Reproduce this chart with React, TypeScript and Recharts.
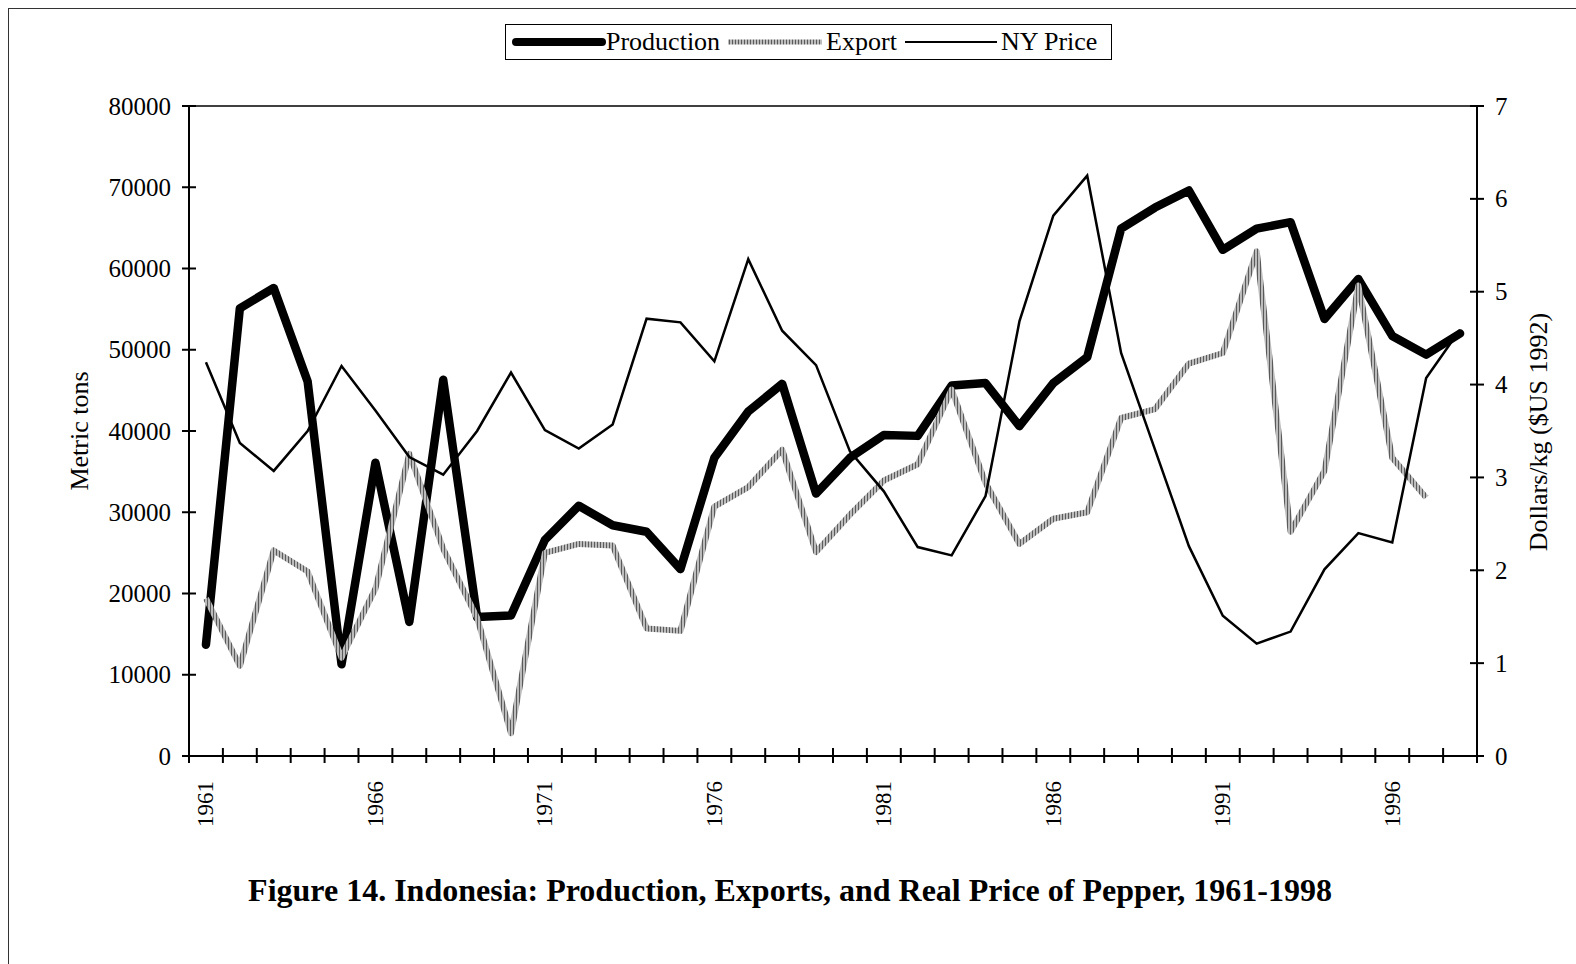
import React from 'react';
import { LineChart, Line, XAxis, YAxis, ReferenceLine, Legend } from 'recharts';

const years = [
  1961, 1962, 1963, 1964, 1965, 1966, 1967, 1968, 1969, 1970,
  1971, 1972, 1973, 1974, 1975, 1976, 1977, 1978, 1979, 1980,
  1981, 1982, 1983, 1984, 1985, 1986, 1987, 1988, 1989, 1990,
  1991, 1992, 1993, 1994, 1995, 1996, 1997, 1998,
];

const production = [
  13700, 55100, 57600, 46100, 11300, 36100, 16500, 46300, 17100, 17300,
  26600, 30800, 28400, 27600, 23000, 36700, 42400, 45800, 32300, 36700,
  39500, 39400, 45600, 45900, 40600, 45900, 49100, 64900, 67500, 69600,
  62300, 64900, 65700, 53800, 58700, 51700, 49400, 52000,
];

const exportVals: (number | null)[] = [
  19400, 11100, 25300, 22700, 12100, 20600, 37200, 25500, 17000, 2800,
  25000, 26100, 25900, 15700, 15400, 30700, 33100, 37700, 25100, 29700,
  33900, 35900, 45100, 33600, 26100, 29200, 30000, 41600, 42700, 48300,
  49600, 62100, 27600, 35100, 57900, 36700, 31800, null,
];

const nyPrice = [
  4.24, 3.37, 3.07, 3.5, 4.2, 3.72, 3.22, 3.03, 3.5, 4.13,
  3.51, 3.31, 3.57, 4.71, 4.67, 4.25, 5.35, 4.58, 4.21, 3.28,
  2.85, 2.25, 2.16, 2.8, 4.68, 5.82, 6.25, 4.34, 3.3, 2.26,
  1.51, 1.21, 1.34, 2.01, 2.4, 2.3, 4.07, 4.59,
];

const yearLabels = [1961, 1966, 1971, 1976, 1981, 1986, 1991, 1996];
const leftTicks = [0, 10000, 20000, 30000, 40000, 50000, 60000, 70000, 80000];
const rightTicks = [0, 1, 2, 3, 4, 5, 6, 7];

const data = years.map((y, i) => ({
  year: y,
  production: production[i],
  exp: exportVals[i],
  price: nyPrice[i],
}));

const tickBounds = [...years.map((y) => y - 0.5), years[years.length - 1] + 0.5];
const xTicks = [...tickBounds, ...yearLabels].sort((a, b) => a - b);

const FONT = '"Liberation Serif", "Times New Roman", serif';

const W = 1576;
const H = 964;
const PLOT_L = 189;
const PLOT_R = 1477;
const PLOT_T = 106;
const PLOT_B = 756;
const LW = 100;
const RW = 60;
const XH = 100;

const XTick = (props: any) => {
  const { x, y, payload } = props;
  const v = payload.value;
  if (Number.isInteger(v)) {
    const ty = y + 25;
    return (
      <text
        x={x}
        y={ty}
        transform={`rotate(-90 ${x} ${ty})`}
        textAnchor="end"
        dominantBaseline="central"
        fontSize={23}
        fontFamily={FONT}
        fill="#000"
      >
        {v}
      </text>
    );
  }
  return <line x1={x} x2={x} y1={y - 8} y2={y + 7} stroke="#000" strokeWidth={2} />;
};

const LeftTick = (props: any) => {
  const { x, y, payload } = props;
  return (
    <g>
      <line x1={x - 7} x2={x + 7} y1={y} y2={y} stroke="#000" strokeWidth={2} />
      <text
        x={x - 18}
        y={y}
        textAnchor="end"
        dominantBaseline="central"
        fontSize={25}
        fontFamily={FONT}
        fill="#000"
      >
        {payload.value}
      </text>
    </g>
  );
};

const RightTick = (props: any) => {
  const { x, y, payload } = props;
  return (
    <g>
      <line x1={x - 7} x2={x + 7} y1={y} y2={y} stroke="#000" strokeWidth={2} />
      <text
        x={x + 18}
        y={y}
        textAnchor="start"
        dominantBaseline="central"
        fontSize={25}
        fontFamily={FONT}
        fill="#000"
      >
        {payload.value}
      </text>
    </g>
  );
};

const LegendBox = () => (
  <div
    style={{
      display: 'flex',
      alignItems: 'center',
      border: '1.5px solid #000',
      height: 36,
      padding: '0 14px 0 6px',
      fontSize: 26,
      fontFamily: FONT,
      background: '#fff',
      whiteSpace: 'nowrap',
      color: '#000',
      boxSizing: 'border-box',
    }}
  >
    <svg width={94} height={14} style={{ display: 'block' }}>
      <line x1={4} y1={7} x2={90} y2={7} stroke="#000" strokeWidth={8} strokeLinecap="round" />
    </svg>
    <span>Production</span>
    <svg width={100} height={14} style={{ display: 'block', marginLeft: 6 }}>
      <defs>
        <pattern id="legHatch" patternUnits="userSpaceOnUse" width="3" height="3">
          <rect width="3" height="3" fill="#bcbcbc" />
          <rect x="0" y="0" width="1" height="3" fill="#5a5a5a" />
        </pattern>
      </defs>
      <line x1={2} y1={7} x2={96} y2={7} stroke="url(#legHatch)" strokeWidth={5} />
    </svg>
    <span>Export</span>
    <svg width={96} height={14} style={{ display: 'block', marginLeft: 8 }}>
      <line x1={0} y1={7} x2={92} y2={7} stroke="#000" strokeWidth={2} />
    </svg>
    <span>NY Price</span>
  </div>
);

export default function App() {
  return (
    <div
      style={{
        position: 'absolute',
        left: 0,
        top: 0,
        width: W,
        height: H,
        background: '#fff',
        fontFamily: FONT,
        overflow: 'hidden',
      }}
    >
      <div
        style={{
          position: 'absolute',
          left: 8,
          top: 8,
          width: W,
          height: H,
          borderLeft: '1.5px solid #333',
          borderTop: '1.5px solid #333',
        }}
      />
      <div style={{ position: 'absolute', left: 0, top: 0 }}>
        <LineChart
          width={W}
          height={H}
          data={data}
          margin={{
            top: PLOT_T,
            right: W - PLOT_R - RW,
            bottom: H - PLOT_B - XH,
            left: PLOT_L - LW,
          }}
        >
          <defs>
            <pattern id="exportHatch" patternUnits="userSpaceOnUse" width="3" height="3">
              <rect width="3" height="3" fill="#bcbcbc" />
              <rect x="0" y="0" width="1" height="3" fill="#5a5a5a" />
            </pattern>
          </defs>
          <XAxis
            xAxisId="x"
            type="number"
            dataKey="year"
            domain={[1960.5, 1998.5]}
            ticks={xTicks}
            interval={0}
            tickSize={0}
            tickMargin={0}
            tickLine={false}
            tick={<XTick />}
            axisLine={{ stroke: '#000', strokeWidth: 2 }}
            height={XH}
          />
          <YAxis
            yAxisId="left"
            orientation="left"
            domain={[0, 80000]}
            ticks={leftTicks}
            interval={0}
            tickSize={0}
            tickMargin={0}
            tickLine={false}
            tick={<LeftTick />}
            axisLine={{ stroke: '#000', strokeWidth: 2 }}
            width={LW}
            label={{
              content: () => (
                <text
                  x={79}
                  y={431}
                  transform="rotate(-90 79 431)"
                  textAnchor="middle"
                  dominantBaseline="central"
                  fontSize={26}
                  fontFamily={FONT}
                  fill="#000"
                >
                  Metric tons
                </text>
              ),
            }}
          />
          <YAxis
            yAxisId="right"
            orientation="right"
            domain={[0, 7]}
            ticks={rightTicks}
            interval={0}
            tickSize={0}
            tickMargin={0}
            tickLine={false}
            tick={<RightTick />}
            axisLine={{ stroke: '#000', strokeWidth: 2 }}
            width={RW}
            label={{
              content: () => (
                <text
                  x={1538}
                  y={432}
                  transform="rotate(-90 1538 432)"
                  textAnchor="middle"
                  dominantBaseline="central"
                  fontSize={26}
                  fontFamily={FONT}
                  fill="#000"
                >
                  Dollars/kg ($US 1992)
                </text>
              ),
            }}
          />
          <ReferenceLine xAxisId="x" yAxisId="left" y={80000} stroke="#000" strokeWidth={1.5} />
          <Legend
            layout="vertical"
            align="center"
            verticalAlign="middle"
            content={() => <LegendBox />}
            wrapperStyle={{ top: 24, left: 505, width: 'auto', height: 'auto' }}
          />
          <Line
            xAxisId="x"
            yAxisId="left"
            type="linear"
            dataKey="production"
            stroke="#000"
            strokeWidth={8.5}
            strokeLinejoin="round"
            strokeLinecap="round"
            dot={false}
            activeDot={false}
            isAnimationActive={false}
          />
          <Line
            xAxisId="x"
            yAxisId="left"
            type="linear"
            dataKey="exp"
            stroke="url(#exportHatch)"
            strokeWidth={6}
            strokeLinejoin="round"
            dot={false}
            activeDot={false}
            isAnimationActive={false}
          />
          <Line
            xAxisId="x"
            yAxisId="right"
            type="linear"
            dataKey="price"
            stroke="#000"
            strokeWidth={2.5}
            dot={false}
            activeDot={false}
            isAnimationActive={false}
          />
        </LineChart>
      </div>
      <div
        style={{
          position: 'absolute',
          left: 0,
          top: 872,
          width: 1580,
          textAlign: 'center',
          fontWeight: 'bold',
          fontSize: 32,
          fontFamily: FONT,
          color: '#000',
          whiteSpace: 'nowrap',
        }}
      >
        Figure 14. Indonesia: Production, Exports, and Real Price of Pepper, 1961-1998
      </div>
    </div>
  );
}
